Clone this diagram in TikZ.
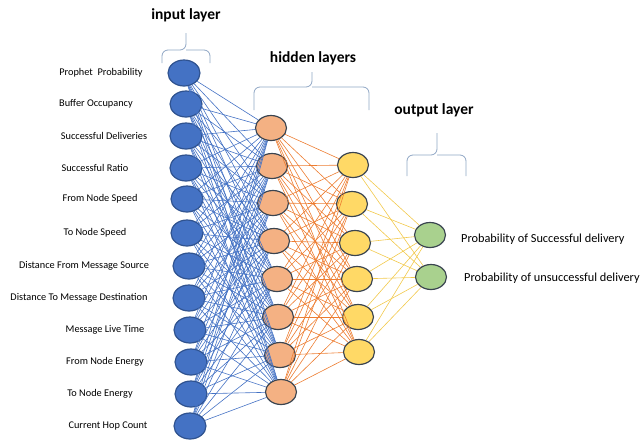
\documentclass[tikz,border=0pt]{standalone}
\usepackage{fontspec}
\setmainfont{Carlito}
\usetikzlibrary{shapes.geometric}

\definecolor{inblue}{HTML}{4472C4}
\definecolor{inring}{HTML}{2F528F}
\definecolor{hidorange}{HTML}{F4B183}
\definecolor{linkorange}{HTML}{ED7D31}
\definecolor{hidyellow}{HTML}{FFD966}
\definecolor{linkyellow}{HTML}{F2C94C}
\definecolor{outgreen}{HTML}{A9D18E}
\definecolor{ringgray}{HTML}{3A4450}
\definecolor{bracegray}{HTML}{8FA6C4}

\begin{document}
\begin{tikzpicture}
[x=1pt, y=-1pt,
 neuron/.style={ellipse, draw=ringgray, line width=1.2pt, minimum width=31pt, minimum height=25pt, inner sep=0pt},
 feature/.style={font=\fontsize{10.3}{12}\selectfont, inner sep=0pt},
 result/.style={font=\fontsize{12.3}{14}\selectfont, inner sep=0pt},
 title/.style={font=\fontsize{15.5}{18}\selectfont\bfseries},
 brace/.style={draw=bracegray, line width=0.8pt, rounded corners=6pt},
 link/.style={line width=0.6pt}]

\useasboundingbox (0,0) rectangle (641,440);

% input layer
\foreach \n/\x/\y/\lx/\txt in {
  1/184/73/101/Prophet~~Probability,
  2/186/104/96/Buffer Occupancy,
  3/186/136/104/Successful Deliveries,
  4/186/168/95/Successful Ratio,
  5/187/199/100/From Node Speed,
  6/187/233/95/To Node Speed,
  7/189/266/84/Distance From Message Source,
  8/189/298/79/Distance To Message Destination,
  9/190/330/105/Message Live Time,
  10/191/362/105/From Node Energy,
  11/191/394/100/To Node Energy,
  12/190/426/108/Current Hop Count}
{
  \node[neuron, fill=inblue, draw=inring, minimum width=32pt, minimum height=26pt] (in\n) at (\x,\y) {};
  \node[feature] (lin\n) at (\lx,\y) {\txt};
}

% hidden layers
\foreach \n/\x/\y in {1/271/128, 2/272/166, 3/273/203, 4/274/241, 5/277/279, 6/278/317, 7/280/355, 8/281/392}
  \node[neuron, fill=hidorange] (ha\n) at (\x,\y) {};

\foreach \n/\x/\y in {1/353/165, 2/352/204, 3/355/243, 4/357/279, 5/358/317, 6/359/352}
  \node[neuron, fill=hidyellow] (hb\n) at (\x,\y) {};

% output layer
\node[neuron, fill=outgreen] (out1) at (430,235) {};
\node[neuron, fill=outgreen] (out2) at (431,277) {};
\node[result, anchor=west] (lout1) at (461,239) {Probability of Successful delivery};
\node[result, anchor=west] (lout2) at (464,278) {Probability of unsuccessful delivery};

% links
\foreach \i in {1,...,12}
  \foreach \j in {1,...,8}
    \draw[link, inblue] (in\i) -- (ha\j);
\foreach \i in {1,...,8}
  \foreach \j in {1,...,6}
    \draw[link, linkorange] (ha\i) -- (hb\j);
\foreach \i in {1,...,6}
  \foreach \j in {1,2}
    \draw[link, linkyellow] (hb\i) -- (out\j);

% braces and titles
\draw[brace] (162,63) -- (162,50) -- (186,50) -- (186,33);
\draw[brace] (210,63) -- (210,50) -- (186,50);
\node[title] (tin) at (186,15) {input layer};

\draw[brace] (254,110) -- (254,87) -- (312,87) -- (312,72);
\draw[brace] (369,110) -- (369,87) -- (312,87);
\node[title] (thid) at (313,58) {hidden layers};

\draw[brace] (407,176) -- (407,155) -- (437,155) -- (437,133);
\draw[brace] (466,176) -- (466,155) -- (437,155);
\node[title] (tout) at (434,110) {output layer};

\end{tikzpicture}
\end{document}
